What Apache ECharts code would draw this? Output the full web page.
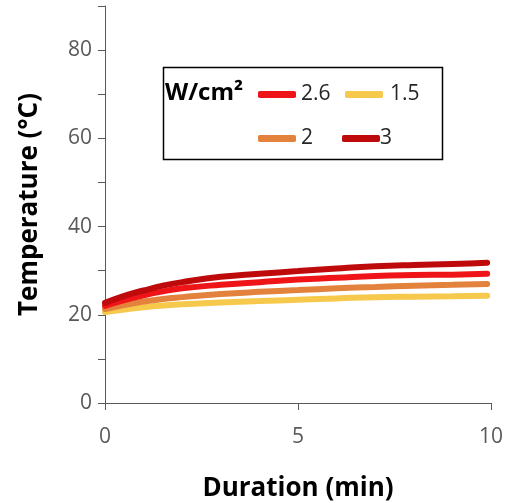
<!DOCTYPE html>
<html>
<head>
<meta charset="utf-8">
<script src="https://cdn.jsdelivr.net/npm/echarts@6/dist/echarts.min.js"></script>
<style>
  html, body { margin: 0; padding: 0; background: #fff; }
  #chart { width: 507px; height: 503px; }
</style>
</head>
<body>
<div id="chart"></div>
<script>
// Time points (min)
const times = [0, 0.5, 1, 1.5, 2, 3, 4, 5, 6, 7, 8, 9, 9.9];
// Temperature (°C) for each power density
const temp3   = [22.7, 24.3, 25.5, 26.6, 27.4, 28.6, 29.3, 29.9, 30.5, 31.0, 31.3, 31.5, 31.8];
const temp2_6 = [22.0, 23.3, 24.4, 25.3, 26.0, 26.8, 27.4, 28.0, 28.4, 28.8, 29.0, 29.1, 29.3];
const temp2   = [21.3, 22.2, 23.0, 23.6, 24.0, 24.7, 25.2, 25.6, 26.0, 26.3, 26.6, 26.8, 27.0];
const temp1_5 = [20.6, 21.2, 21.7, 22.1, 22.4, 22.8, 23.1, 23.4, 23.7, 24.0, 24.1, 24.2, 24.3];
const xTicks = [0, 5, 10];
const yTicks = [0, 20, 40, 60, 80];

const FONT = '"Open Sans", "Liberation Sans", sans-serif';
const seriesDefs = [
  { name: '2.6', data: temp2_6, color: '#EE1418' },
  { name: '1.5', data: temp1_5, color: '#F6C94C' },
  { name: '2',   data: temp2,   color: '#E3823C' },
  { name: '3',   data: temp3,   color: '#BE0A0A' }
];
const drawOrder = ['1.5', '2', '2.6', '3'];

// legend entry placement inside the framed box
const legendPos = {
  '2.6': { left: 258, top: 84, gap: 0 },
  '1.5': { left: 345, top: 84, gap: 2 },
  '2':   { left: 258, top: 128, gap: 0 },
  '3':   { left: 342, top: 128, gap: -5 }
};

const chart = echarts.init(document.getElementById('chart'), null, { renderer: 'canvas' });

chart.setOption({
  animation: false,
  backgroundColor: '#fff',
  grid: { left: 105, right: 16, top: 6, bottom: 100, containLabel: false, outerBoundsMode: 'none' },
  xAxis: {
    type: 'value', min: 0, max: 10, interval: 5,
    name: 'Duration (min)', nameLocation: 'middle', nameGap: 73,
    nameTextStyle: { fontFamily: FONT, fontWeight: 'bold', fontSize: 26, color: '#000' },
    axisLine: { onZero: false, lineStyle: { color: '#595959', width: 1 } },
    axisTick: { show: true, inside: false, length: 7, lineStyle: { color: '#595959' } },
    axisLabel: {
      fontFamily: FONT, fontSize: 21, color: '#595959', margin: 24,
      formatter: v => (xTicks.includes(v) ? String(v) : '')
    },
    splitLine: { show: false }
  },
  yAxis: {
    type: 'value', min: 0, max: 90, interval: 10,
    name: 'Temperature (°C)', nameLocation: 'middle', nameGap: 62, nameRotate: 90,
    nameTextStyle: { fontFamily: FONT, fontWeight: 'bold', fontSize: 26, color: '#000' },
    axisLine: { show: true, lineStyle: { color: '#595959', width: 1 } },
    axisTick: { show: true, inside: false, length: 7, lineStyle: { color: '#595959' } },
    axisLabel: {
      fontFamily: FONT, fontSize: 21, color: '#595959', margin: 13,
      formatter: v => (yTicks.includes(v) ? String(v) : '')
    },
    splitLine: { show: false }
  },
  legend: seriesDefs.map(s => ({
    data: [s.name],
    left: legendPos[s.name].left,
    top: legendPos[s.name].top,
    icon: 'roundRect',
    itemWidth: 38,
    itemHeight: 7,
    itemGap: 0,
    padding: 0,
    selectedMode: false,
    textStyle: { fontFamily: FONT, fontSize: 21, color: '#262626', padding: [0, 0, 0, legendPos[s.name].gap] }
  })),
  graphic: [
    {
      type: 'rect',
      shape: { x: 163.5, y: 67.5, width: 279, height: 92 },
      style: { fill: 'rgba(255,255,255,0)', stroke: '#000', lineWidth: 1.5 },
      z: 1
    },
    {
      type: 'text',
      left: 165, top: 81,
      style: { text: 'W/cm²', fontFamily: FONT, fontWeight: 'bold', fontSize: 24, fill: '#000' },
      z: 5
    }
  ],
  series: drawOrder.map(n => {
    const s = seriesDefs.find(d => d.name === n);
    return {
      name: s.name,
      type: 'line',
      smooth: true,
      showSymbol: false,
      color: s.color,
      lineStyle: { color: s.color, width: 6, cap: 'round' },
      data: times.map((t, i) => [t, s.data[i]])
    };
  })
});
</script>
</body>
</html>
